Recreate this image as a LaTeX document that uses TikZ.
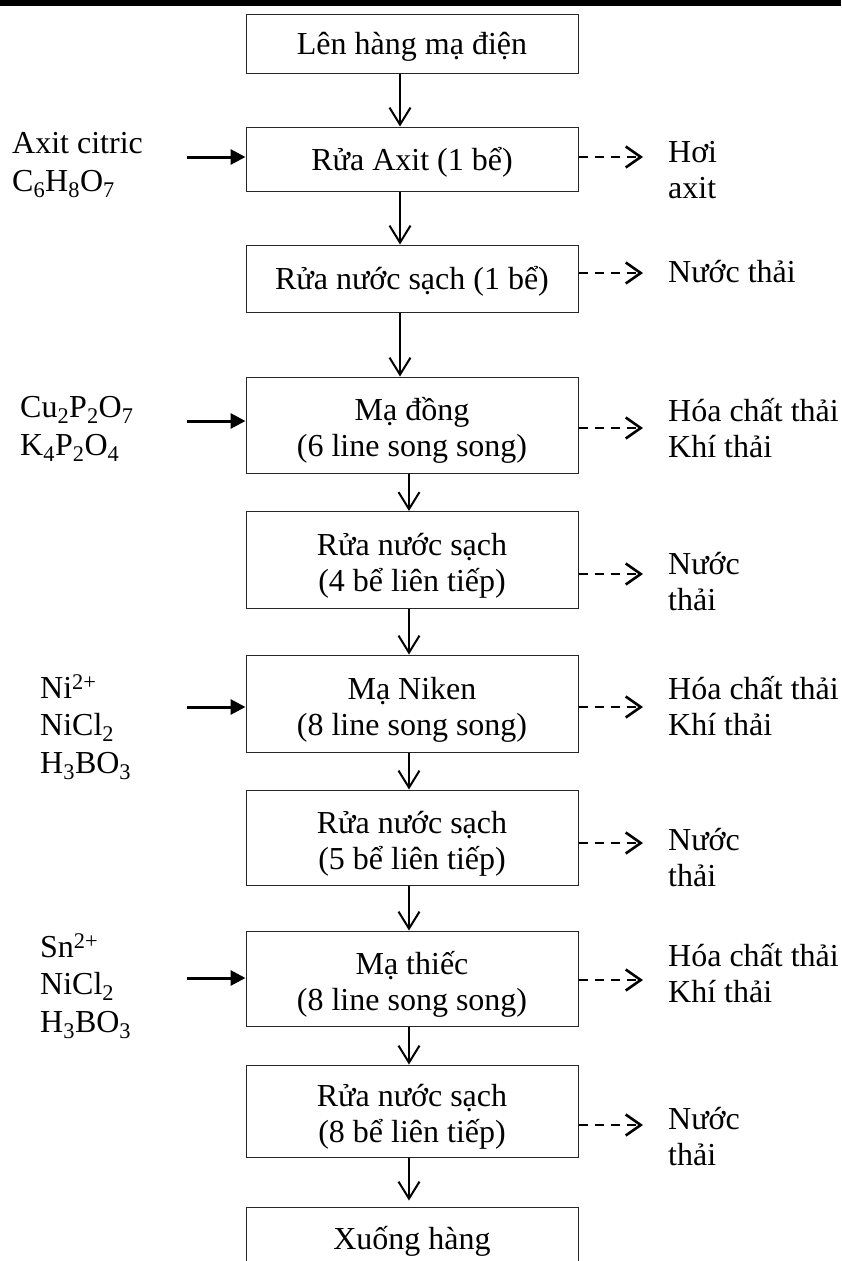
\documentclass[tikz,border=0pt]{standalone}
\usepackage{fontspec}
\setmainfont{Liberation Serif}
\usetikzlibrary{arrows.meta}
\newcommand\dfont{\fontsize{32}{36}\selectfont}
\newcommand\lfont{\fontsize{32}{37.5}\selectfont}
\newcommand\mytop[1]{\rule{0pt}{#1}}
\newcommand\mybot[1]{\rule[-#1]{0pt}{#1}}
\begin{document}
\begin{tikzpicture}[x=1pt,y=-1pt,
  box/.style={draw=black!85, line width=1pt, minimum width=332pt, align=center, inner sep=0pt, font=\dfont},
  lab/.style={anchor=west, align=left, inner sep=0pt, font=\lfont},
  varrow/.style={line width=2pt, -{Straight Barb[length=17pt,width=21pt,line width=2pt]}},
  inarrow/.style={line width=3pt, -{Triangle[length=15pt,width=15pt]}},
  outarrow/.style={line width=2.6pt, dash pattern=on 9pt off 7pt, -{Straight Barb[length=15pt,width=21pt,line width=2.6pt]}}]
\useasboundingbox (0,0) rectangle (841,1261);
\clip (0,0) rectangle (841,1261);
\fill (0,0) rectangle (841,6);
% process boxes
\node[box, minimum height=59pt] (b1) at (412,43.5) {\mytop{32pt}Lên hàng mạ điện\mybot{10pt}};
\node[box, minimum height=64pt] (b2) at (412,159) {\mytop{32pt}Rửa Axit (1 bể)\mybot{10pt}};
\node[box, minimum height=67pt] (b3) at (412,278.5) {\mytop{32pt}Rửa nước sạch (1 bể)\mybot{10pt}};
\node[box, minimum height=96pt] (b4) at (412,425) {\mytop{36pt}Mạ đồng\\(6 line song song)\mybot{9pt}};
\node[box, minimum height=97pt] (b5) at (412,560) {\mytop{36pt}Rửa nước sạch\\(4 bể liên tiếp)\mybot{9pt}};
\node[box, minimum height=97pt] (b6) at (412,703.5) {\mytop{36pt}Mạ Niken\\(8 line song song)\mybot{9pt}};
\node[box, minimum height=95pt] (b7) at (412,837.5) {\mytop{36pt}Rửa nước sạch\\(5 bể liên tiếp)\mybot{9pt}};
\node[box, minimum height=95pt] (b8) at (412,978.5) {\mytop{36pt}Mạ thiếc\\(8 line song song)\mybot{9pt}};
\node[box, minimum height=92pt] (b9) at (412,1111) {\mytop{36pt}Rửa nước sạch\\(8 bể liên tiếp)\mybot{9pt}};
\node[box, minimum height=62pt] (b10) at (412,1238) {\mytop{32pt}Xuống hàng\mybot{10pt}};
% vertical flow
\draw[varrow] ([xshift=-12pt]b1.south) -- ([xshift=-12pt]b2.north);
\draw[varrow] ([xshift=-12pt]b2.south) -- ([xshift=-12pt]b3.north);
\draw[varrow] ([xshift=-12pt]b3.south) -- ([xshift=-12pt]b4.north);
\draw[varrow] ([xshift=-3pt]b4.south) -- ([xshift=-3pt]b5.north);
\draw[varrow] ([xshift=-3pt]b5.south) -- ([xshift=-3pt]b6.north);
\draw[varrow] ([xshift=-3pt]b6.south) -- ([xshift=-3pt]b7.north);
\draw[varrow] ([xshift=-3pt]b7.south) -- ([xshift=-3pt]b8.north);
\draw[varrow] ([xshift=-3pt]b8.south) -- ([xshift=-3pt]b9.north);
\draw[varrow] ([xshift=-3pt]b9.south) -- ([xshift=-3pt,yshift=6pt]b10.north);
% inputs
\node[lab] (l2) at (12,165) {Axit citric\\C\textsubscript{6}H\textsubscript{8}O\textsubscript{7}};
\node[lab] (l4) at (20,429) {Cu\textsubscript{2}P\textsubscript{2}O\textsubscript{7}\\K\textsubscript{4}P\textsubscript{2}O\textsubscript{4}};
\node[lab] (l6) at (40,727) {Ni\textsuperscript{2+}\\NiCl\textsubscript{2}\\H\textsubscript{3}BO\textsubscript{3}};
\node[lab] (l8) at (40,986) {Sn\textsuperscript{2+}\\NiCl\textsubscript{2}\\H\textsubscript{3}BO\textsubscript{3}};
\coordinate (i2) at (187,157);
\coordinate (i4) at (187,421);
\coordinate (i6) at (187,707);
\coordinate (i8) at (187,978);
\draw[inarrow] (i2) -- (i2 -| b2.west);
\draw[inarrow] (i4) -- (i4 -| b4.west);
\draw[inarrow] (i6) -- (i6 -| b6.west);
\draw[inarrow] (i8) -- (i8 -| b8.west);
% outputs
\node[lab, font=\dfont] (r2) at (668,170) {Hơi\\axit};
\node[lab, font=\dfont] (r3) at (668,272) {Nước thải};
\node[lab, font=\dfont] (r4) at (668,428) {Hóa chất thải\\Khí thải};
\node[lab, font=\dfont] (r5) at (668,582) {Nước\\thải};
\node[lab, font=\dfont] (r6) at (668,706) {Hóa chất thải\\Khí thải};
\node[lab, font=\dfont] (r7) at (668,858) {Nước\\thải};
\node[lab, font=\dfont] (r8) at (668,973) {Hóa chất thải\\Khí thải};
\node[lab, font=\dfont] (r9) at (668,1137) {Nước\\thải};
\coordinate (o2) at (643,157);
\coordinate (o3) at (643,273);
\coordinate (o4) at (643,428);
\coordinate (o5) at (643,574);
\coordinate (o6) at (643,707);
\coordinate (o7) at (643,843);
\coordinate (o8) at (643,980);
\coordinate (o9) at (643,1125);
\draw[outarrow] (o2 -| b2.east) -- (o2);
\draw[outarrow] (o3 -| b3.east) -- (o3);
\draw[outarrow] (o4 -| b4.east) -- (o4);
\draw[outarrow] (o5 -| b5.east) -- (o5);
\draw[outarrow] (o6 -| b6.east) -- (o6);
\draw[outarrow] (o7 -| b7.east) -- (o7);
\draw[outarrow] (o8 -| b8.east) -- (o8);
\draw[outarrow] (o9 -| b9.east) -- (o9);
\end{tikzpicture}
\end{document}
